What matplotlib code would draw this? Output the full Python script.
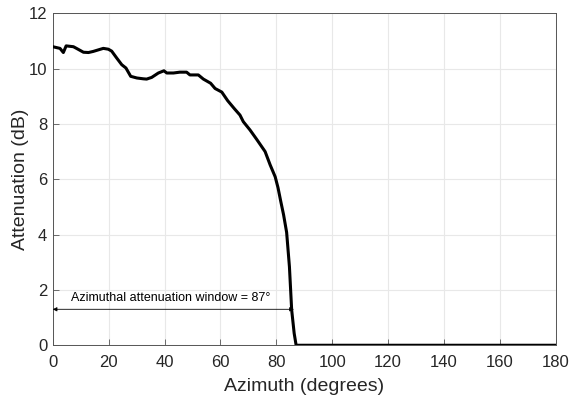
import matplotlib.pyplot as plt
import numpy as np

plt.rcParams['font.family'] = ['Liberation Sans', 'DejaVu Sans']

# azimuth (deg) and attenuation (dB)
azimuth = [0, 2.6, 3.8, 4.8, 7.4, 8.5, 11.0, 12.8, 14.5, 18.1, 19.9, 21.1, 22.9, 24.7,
           26.2, 27.9, 30.1, 32.4, 33.6, 35.4, 37.8, 39.8, 40.8, 43.2, 45.5, 47.9,
           49.1, 52.1, 53.9, 56.5, 58.1, 60.5, 62.6, 65.0, 67.0, 68.2, 70.6, 73.0,
           76.0, 77.8, 79.6, 80.6, 81.6, 82.6, 83.7, 84.7, 85.5, 86.4, 87.1, 180]
attenuation = [10.79, 10.73, 10.58, 10.82, 10.79, 10.73, 10.59, 10.58, 10.62, 10.73,
               10.70, 10.63, 10.38, 10.14, 10.02, 9.72, 9.66, 9.63, 9.62, 9.68, 9.84,
               9.92, 9.84, 9.84, 9.87, 9.87, 9.77, 9.77, 9.62, 9.47, 9.28, 9.15, 8.84,
               8.55, 8.32, 8.08, 7.78, 7.44, 7.00, 6.52, 6.09, 5.70, 5.20, 4.72, 4.08,
               2.84, 1.28, 0.43, 0.0, 0.0]

window = 87

fig = plt.figure(figsize=(5.7, 4.01), dpi=100)
ax = fig.add_axes([0.0925, 0.139, 0.8825, 0.828])

ax.plot(azimuth, attenuation, color='black', linewidth=2.2, zorder=3)

# window arrow and label
ax.annotate('', xy=(0, 1.3), xytext=(86.3, 1.3),
            arrowprops=dict(arrowstyle='<|-|>', color='black', lw=0.6,
                            mutation_scale=6, shrinkA=0, shrinkB=0))
ax.text(42.3, 1.72, 'Azimuthal attenuation window = %d°' % window,
        ha='center', va='center', fontsize=9)

ax.set_xlim(0, 180)
ax.set_ylim(0, 12)
ax.set_xticks(np.arange(0, 181, 20))
ax.set_yticks(np.arange(0, 13, 2))
ax.grid(True, color='#e8e8e8', linewidth=0.8)
ax.set_axisbelow(True)
ax.tick_params(direction='in', length=4, color='#555555', labelsize=12,
               labelcolor='#262626', width=0.6)
ax.tick_params(axis='x', pad=7)
ax.tick_params(axis='y', pad=4)
for s in ax.spines.values():
    s.set_color('#555555')
    s.set_linewidth(0.7)

ax.set_xlabel('Azimuth (degrees)', fontsize=14, color='#262626', labelpad=6)
ax.set_ylabel('Attenuation (dB)', fontsize=14, color='#262626', labelpad=0)

fig.savefig('out.png', dpi=100)
